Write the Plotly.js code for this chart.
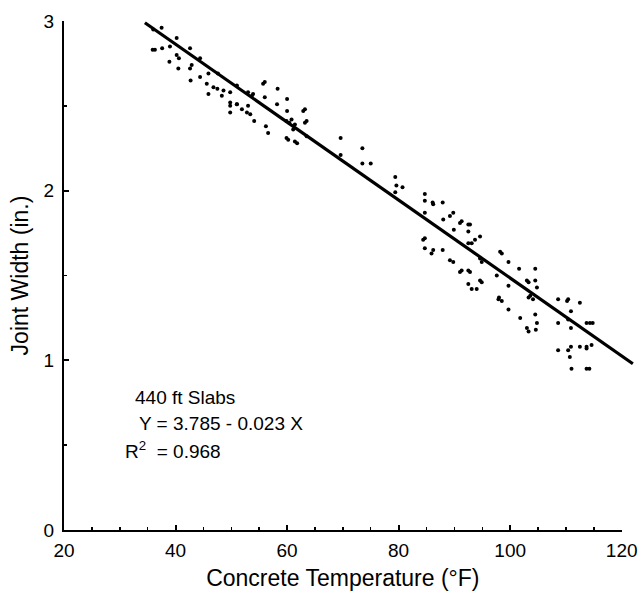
<!DOCTYPE html>
<html>
<head>
<meta charset="utf-8">
<script src="https://cdn.plot.ly/plotly-3.0.1.min.js"></script>
<style>html,body{margin:0;padding:0;background:#fff;}#chart{width:640px;height:602px;}</style>
</head>
<body>
<div id="chart"></div>
<script>
// Observed points: concrete temperature (°F) and joint width (in.)
const tempF = [
  37.5, 36.0, 40.2, 35.9, 36.3, 37.6, 39.0, 42.6, 40.2, 40.6, 38.9, 40.5, 42.9, 42.6, 42.7, 44.4,
  45.9, 45.6, 46.8, 47.5, 45.9, 48.3, 48.6, 49.8, 51.0, 49.8, 51.9, 52.8, 53.4, 54.1, 53.7, 51.0,
  44.4, 47.6, 49.8, 49.8, 51.0, 53.0, 53.0, 53.9, 56.0, 55.7, 56.0, 56.2, 56.6, 58.3, 58.2, 60.0,
  60.0, 59.9, 60.4, 60.8, 61.4, 59.9, 60.2, 61.4, 61.8, 63.2, 62.9, 63.5, 63.2, 61.1, 63.5,
  69.6, 69.6, 73.5, 73.5, 75.0, 79.4, 79.6, 80.7, 79.4, 84.7, 84.7,
  86.2, 86.1, 87.9, 84.7, 89.8, 89.2, 88.0, 91.3, 91.0, 92.8, 92.5, 89.9, 92.5, 94.6, 93.7, 93.1,
  92.5, 84.4, 84.7, 84.7, 86.2, 85.9, 87.9, 89.2, 89.8, 94.6, 94.9, 98.2, 98.5, 99.7, 101.6, 91.3,
  91.0, 92.8, 92.5, 94.6, 94.9, 97.6, 99.7, 92.5, 93.1, 94.0, 98.0,
  104.5, 103.0, 103.3, 104.5, 104.8, 103.6, 103.3, 104.1, 97.9, 98.5, 99.7, 101.8, 104.5, 104.8,
  103.0, 103.3, 104.6, 108.6, 110.4, 110.2, 110.9, 110.4, 108.6, 110.9,
  112.5, 113.7, 114.3, 114.8, 108.6, 110.4, 110.9, 112.5, 113.7, 113.7, 114.6, 110.7, 111.0, 113.7, 114.2
];
const jointWidth = [
  2.96, 2.95, 2.90, 2.83, 2.83, 2.84, 2.85, 2.84, 2.80, 2.78, 2.76, 2.72, 2.74, 2.72, 2.65, 2.67,
  2.69, 2.63, 2.61, 2.60, 2.57, 2.56, 2.59, 2.50, 2.51, 2.46, 2.48, 2.46, 2.45, 2.41, 2.56, 2.62,
  2.78, 2.69, 2.58, 2.52, 2.51, 2.58, 2.50, 2.57, 2.64, 2.63, 2.55, 2.38, 2.34, 2.60, 2.51, 2.54,
  2.47, 2.41, 2.40, 2.42, 2.39, 2.31, 2.30, 2.29, 2.28, 2.48, 2.47, 2.41, 2.40, 2.36, 2.32,
  2.31, 2.21, 2.25, 2.16, 2.16, 2.08, 2.03, 2.02, 1.99, 1.98, 1.94,
  1.92, 1.93, 1.93, 1.87, 1.87, 1.85, 1.83, 1.82, 1.81, 1.80, 1.80, 1.77, 1.76, 1.73, 1.71, 1.69,
  1.69, 1.71, 1.72, 1.66, 1.65, 1.63, 1.65, 1.59, 1.58, 1.60, 1.58, 1.64, 1.63, 1.58, 1.54, 1.53,
  1.52, 1.52, 1.53, 1.47, 1.46, 1.50, 1.44, 1.45, 1.42, 1.42, 1.37,
  1.54, 1.47, 1.46, 1.47, 1.43, 1.38, 1.37, 1.36, 1.36, 1.35, 1.30, 1.25, 1.27, 1.22,
  1.19, 1.17, 1.18, 1.36, 1.36, 1.35, 1.29, 1.24, 1.22, 1.19,
  1.34, 1.22, 1.22, 1.22, 1.06, 1.06, 1.08, 1.08, 1.08, 1.07, 1.09, 1.02, 0.95, 0.95, 0.95
];
// Fitted line endpoints (Y = 3.785 - 0.023 X)
const fitX = [34.5, 122.0];
const fitY = [2.99, 0.98];
const xTicks = [20, 40, 60, 80, 100, 120];
const yTicks = [0, 1, 2, 3];
const notes = ['440 ft Slabs', 'Y = 3.785 - 0.023 X', 'R<sup>2</sup>  = 0.968'];

const FONT = '"Liberation Sans Narrow", "Arial Narrow", "Liberation Sans", Arial, sans-serif';
const pxPerUnit = 557.7 / 100;
const plotW = 576;

const data = [
  {x: tempF, y: jointWidth, type: 'scatter', mode: 'markers', xaxis: 'x', yaxis: 'y',
   marker: {color: '#000', size: 4}, hoverinfo: 'x+y'},
  {x: fitX, y: fitY, type: 'scatter', mode: 'lines', xaxis: 'x2', yaxis: 'y',
   line: {color: '#000', width: 3.2}, hoverinfo: 'skip'}
];

const layout = {
  width: 640, height: 602,
  margin: {l: 64, r: 0, t: 21, b: 72},
  paper_bgcolor: '#fff', plot_bgcolor: 'rgba(0,0,0,0)',
  showlegend: false,
  font: {family: FONT, color: '#000'},
  xaxis: {
    domain: [0, 557.7 / plotW], range: [20, 120], anchor: 'y',
    tickvals: xTicks, ticktext: xTicks.map(String),
    ticks: 'inside', ticklen: 5, tickwidth: 2, tickcolor: '#000',
    minor: {ticks: 'inside', dtick: 5, tick0: 20, ticklen: 3, tickwidth: 1.5, tickcolor: '#000', showgrid: false},
    showline: true, linecolor: '#000', linewidth: 2.2,
    showgrid: false, zeroline: false,
    tickfont: {size: 19, family: FONT},
    ticklabelstandoff: 2,
    title: {text: 'Concrete Temperature (°F)', font: {size: 23, family: FONT}, standoff: 10}
  },
  xaxis2: {
    domain: [0, 1], range: [20, 20 + plotW / pxPerUnit], anchor: 'y',
    visible: false, showgrid: false, zeroline: false
  },
  yaxis: {
    range: [0, 3], anchor: 'x',
    tickvals: yTicks, ticktext: yTicks.map(String),
    ticks: 'inside', ticklen: 5, tickwidth: 2, tickcolor: '#000',
    minor: {ticks: 'inside', dtick: 0.5, tick0: 0, ticklen: 3, tickwidth: 1.5, tickcolor: '#000', showgrid: false},
    showline: true, linecolor: '#000', linewidth: 2.2,
    showgrid: false, zeroline: false,
    tickfont: {size: 19, family: FONT},
    ticklabelstandoff: 4,
    title: {text: 'Joint Width (in.)', font: {size: 23, family: FONT}, standoff: 8}
  },
  annotations: [
    {text: notes[0], xref: 'x', yref: 'y', x: 32.4, y: 0.78, xanchor: 'left', yanchor: 'middle', showarrow: false, font: {size: 19, family: FONT}},
    {text: notes[1], xref: 'x', yref: 'y', x: 33.1, y: 0.63, xanchor: 'left', yanchor: 'middle', showarrow: false, font: {size: 19, family: FONT}},
    {text: notes[2], xref: 'x', yref: 'y', x: 30.6, y: 0.47, xanchor: 'left', yanchor: 'middle', showarrow: false, font: {size: 19, family: FONT}}
  ]
};

Plotly.newPlot('chart', data, layout, {displayModeBar: false, staticPlot: true});
</script>
</body>
</html>
